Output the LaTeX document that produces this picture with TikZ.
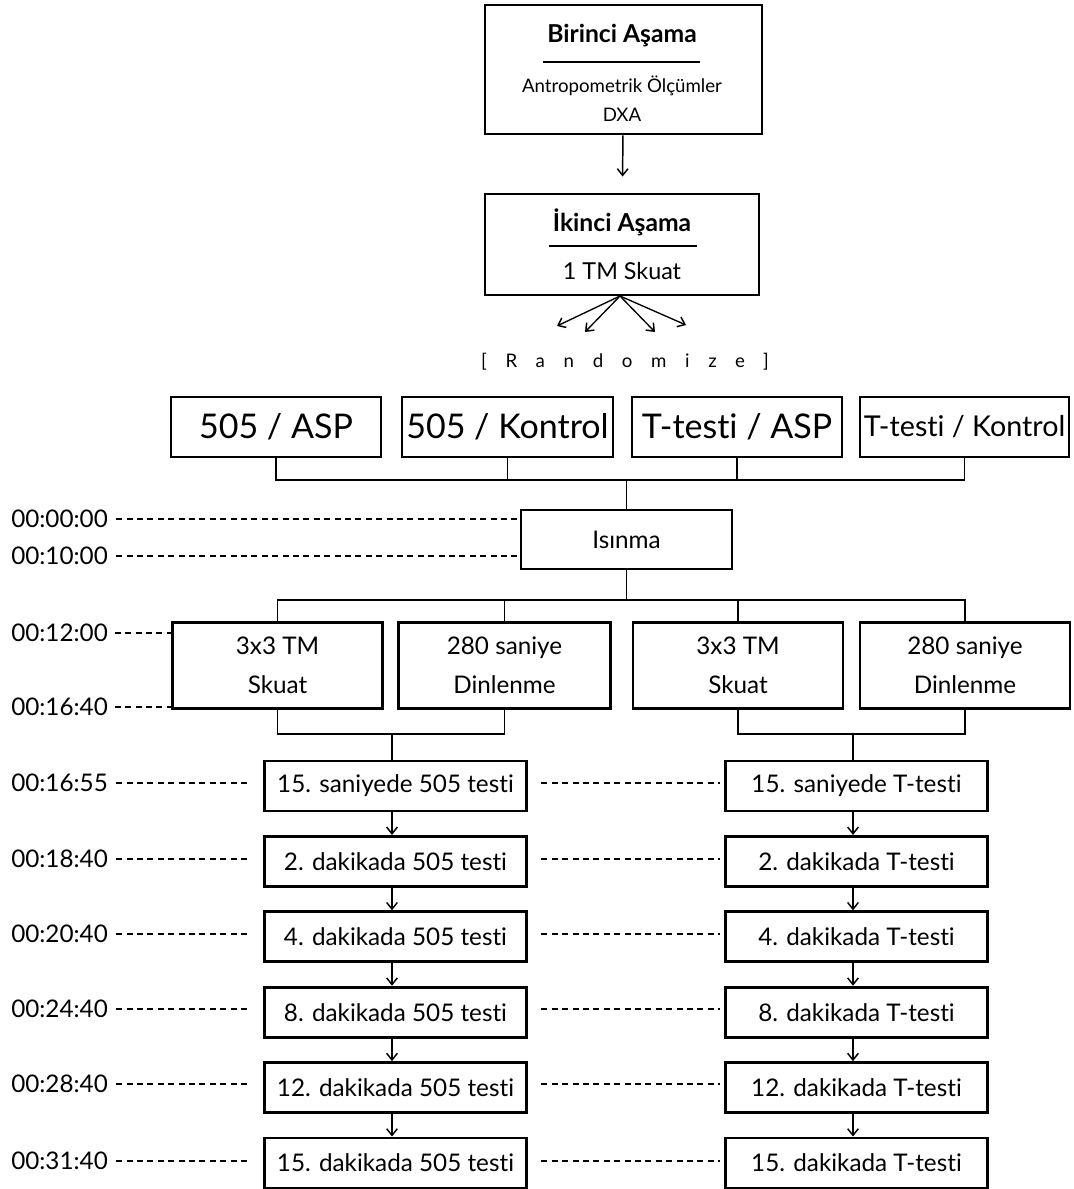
\documentclass[tikz,border=0pt]{standalone}
\usepackage{fontspec}
\setmainfont{Lato}[Ligatures={NoCommon}]
\usetikzlibrary{arrows.meta}
\begin{document}
\begin{tikzpicture}[x=0.75pt,y=-0.75pt,
  box/.style={draw, line width=2.2pt, inner sep=0pt, align=center, fill=white},
  bx/.style 2 args={minimum width=#1*0.75pt, minimum height=#2*0.75pt},
  conn/.style={line width=1.1pt},
  arr/.style={line width=1.1pt, -{Straight Barb[length=5pt,width=8pt,line width=1.1pt]}},
  dsh/.style={line width=1pt, dash pattern=on 4.5pt off 3.3pt},
  tlab/.style={anchor=west, inner sep=0pt, font=\fontsize{18.2}{20}\selectfont},
  txt/.style={font=\fontsize{18.2}{20}\selectfont},
  big/.style={font=\fontsize{25.5}{28}\selectfont},
]
\useasboundingbox (0,0) rectangle (1074,1189);

% Stage 1
\node[box, bx={277}{129}] (b1) at (623.5,69.5) {};
\node[inner sep=0pt, font=\fontsize{18.5}{20}\selectfont\bfseries] (b1t) at (622,36) {Birinci Aşama};
\draw[line width=1pt] (543,62) -- (700,62);
\node[inner sep=0pt, font=\fontsize{14}{16}\selectfont] (b1a) at (622,86) {Antropometrik Ölçümler};
\node[inner sep=0pt, font=\fontsize{14}{16}\selectfont] (b1b) at (622,115) {DXA};

% Stage 2
\node[box, bx={274}{101}] (b2) at (622,244.5) {};
\node[inner sep=0pt, font=\fontsize{18.5}{20}\selectfont\bfseries] (b2t) at (622,222) {İkinci Aşama};
\draw[line width=1pt] (549,246) -- (697,246);
\node[inner sep=0pt, font=\fontsize{17.5}{20}\selectfont] (b2a) at (622,271) {1 TM Skuat};

\draw[arr, shorten >=12pt] (b1) -- (b2);

% fan arrows
\coordinate (f0) at (620,296);
\coordinate (f1) at (557,326);
\coordinate (f2) at (585,332);
\coordinate (f3) at (655,332);
\coordinate (f4) at (686,325);
\foreach \i in {1,...,4} \draw[arr, line width=1pt] (f0) -- (f\i);

\node[inner sep=0pt, font=\fontsize{14}{16}\selectfont\addfontfeatures{LetterSpace=100}] (rnd) at (625,362) {[Randomize]};

% groups
\node[box, bx={210}{60}, big] (g1) at (276,427) {505 / ASP};
\node[box, bx={211}{60}, big] (g2) at (507.5,427) {505 / Kontrol};
\node[box, bx={210}{60}, big] (g3) at (737,427) {T-testi / ASP};
\node[box, bx={209}{60}, font=\fontsize{21.5}{24}\selectfont] (g4) at (964.5,427) {T-testi / Kontrol};

\coordinate (h1) at (626.5,480);
\draw[conn] (g1.south) |- (h1) -| (g4.south);
\draw[conn] (g2.south) -- (g2.south |- h1);
\draw[conn] (g3.south) -- (g3.south |- h1);

% warm-up
\node[box, bx={211}{59}, txt] (isn) at (626.5,539.5) {Isınma};
\draw[conn] (h1) -- (isn.north);

\coordinate (h2) at (626.5,600);
\node[box, bx={210}{86}, txt] (s1) at (277.5,665.5) {3x3 TM\\[9.5pt]Skuat};
\node[box, bx={212}{86}, txt] (s2) at (504.5,665.5) {280 saniye\\[9.5pt]Dinlenme};
\node[box, bx={210}{86}, txt] (s3) at (738,665.5) {3x3 TM\\[9.5pt]Skuat};
\node[box, bx={210}{86}, txt] (s4) at (965,665.5) {280 saniye\\[9.5pt]Dinlenme};
\draw[conn] (isn.south) -- (h2);
\draw[conn] (s1.north) |- (h2) -| (s4.north);
\draw[conn] (s2.north) -- (s2.north |- h2);
\draw[conn] (s3.north) -- (s3.north |- h2);

\coordinate (h3) at (392,734);
\coordinate (h4) at (853,734);
\draw[conn] (s1.south) |- (h3) -| (s2.south);
\draw[conn] (s3.south) |- (h4) -| (s4.south);

% test boxes
\node[box, bx={262}{50}, txt] (l1) at (395.5,786) {15. saniyede 505 testi};
\node[box, bx={262}{50}, txt] (l2) at (395.5,861.4) {2. dakikada 505 testi};
\node[box, bx={262}{50}, txt] (l3) at (395.5,936.8) {4. dakikada 505 testi};
\node[box, bx={262}{50}, txt] (l4) at (395.5,1012.2) {8. dakikada 505 testi};
\node[box, bx={262}{50}, txt] (l5) at (395.5,1087.6) {12. dakikada 505 testi};
\node[box, bx={262}{50}, txt] (l6) at (395.5,1163) {15. dakikada 505 testi};

\node[box, bx={262}{50}, txt] (r1) at (856.5,786) {15. saniyede T-testi};
\node[box, bx={262}{50}, txt] (r2) at (856.5,861.4) {2. dakikada T-testi};
\node[box, bx={262}{50}, txt] (r3) at (856.5,936.8) {4. dakikada T-testi};
\node[box, bx={262}{50}, txt] (r4) at (856.5,1012.2) {8. dakikada T-testi};
\node[box, bx={262}{50}, txt] (r5) at (856.5,1087.6) {12. dakikada T-testi};
\node[box, bx={262}{50}, txt] (r6) at (856.5,1163) {15. dakikada T-testi};

\draw[conn] (h3) -- (h3 |- l1.north);
\draw[conn] (h4) -- (h4 |- r1.north);
\foreach \a/\b in {1/2,2/3,3/4,4/5,5/6}{
  \draw[arr] (h3 |- l\a.south) -- (h3 |- l\b.north);
  \draw[arr] (h4 |- r\a.south) -- (h4 |- r\b.north);
}

% time labels
\node[tlab] (t0) at (11,519) {00:00:00};
\node[tlab] (t1) at (11,556) {00:10:00};
\node[tlab] (t2) at (11,633) {00:12:00};
\node[tlab] (t3) at (11,707) {00:16:40};
\node[tlab] (t4) at (11,783) {00:16:55};
\node[tlab] (t5) at (11,859) {00:18:40};
\node[tlab] (t6) at (11,934) {00:20:40};
\node[tlab] (t7) at (11,1009) {00:24:40};
\node[tlab] (t8) at (11,1084) {00:28:40};
\node[tlab] (t9) at (11,1161) {00:31:40};

\draw[dsh] ([xshift=6pt]t0.east) -- (t0.east -| isn.west);
\draw[dsh] ([xshift=6pt]t1.east) -- (t1.east -| isn.west);
\draw[dsh] ([xshift=5pt]t2.east) -- (t2.east -| s1.west);
\draw[dsh] ([xshift=5pt]t3.east) -- (t3.east -| s1.west);
\foreach \i/\j in {4/1,5/2,6/3,7/4,8/5,9/6}{
  \draw[dsh] ([xshift=6pt]t\i.east) -- ([xshift=-10pt]t\i.east -| l\j.west);
  \draw[dsh] ([xshift=10pt]t\i.east -| l\j.east) -- ([xshift=-3pt]t\i.east -| r\j.west);
}
\end{tikzpicture}
\end{document}
